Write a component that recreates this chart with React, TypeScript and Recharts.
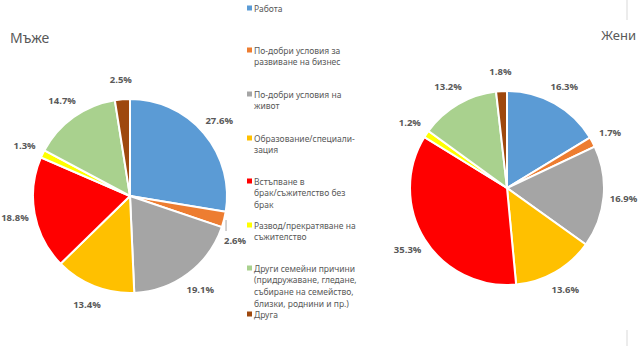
import React from 'react';
import { PieChart, Pie, Cell, Customized } from 'recharts';

const categories = [
  'Работа',
  'По-добри условия за развиване на бизнес',
  'По-добри условия на живот',
  'Образование/специализация',
  'Встъпване в брак/съжителство без брак',
  'Развод/прекратяване на съжителство',
  'Други семейни причини (придружаване, гледане, събиране на семейство, близки, роднини и пр.)',
  'Друга',
];
const legendLines = [
  ['Работа'],
  ['По-добри условия за', 'развиване на бизнес'],
  ['По-добри условия на', 'живот'],
  ['Образование/специали-', 'зация'],
  ['Встъпване в', 'брак/съжителство без', 'брак'],
  ['Развод/прекратяване на', 'съжителство'],
  ['Други семейни причини', '(придружаване, гледане,', 'събиране на семейство,', 'близки, роднини и пр.)'],
  ['Друга'],
];
const legendTops = [8, 50, 94, 138, 181, 225, 268, 314];
const colors = ['#5B9BD5', '#ED7D31', '#A5A5A5', '#FFC000', '#FF0000', '#FFFF00', '#A9D18E', '#9E480E'];
const men = [27.6, 2.6, 19.1, 13.4, 18.8, 1.3, 14.7, 2.5];
const women = [16.3, 1.7, 16.9, 13.6, 35.3, 1.2, 13.2, 1.8];

const menData = categories.map((name, i) => ({ name, value: men[i] }));
const womenData = categories.map((name, i) => ({ name, value: women[i] }));

const RAD = Math.PI / 180;
const makeLabel = (leaderIndex: number) => (props: any) => {
  const { cx, cy, midAngle, outerRadius, value, index } = props;
  const cos = Math.cos(-midAngle * RAD);
  const sin = Math.sin(-midAngle * RAD);
  let r = outerRadius + 20;
  let x = cx + r * cos;
  let y = cy + r * sin;
  const txt = (
    <text key="t" x={0} y={0} textAnchor="middle" dominantBaseline="central" fill="#595959"
      fontSize={9.5} fontWeight="bold" fontFamily="'Open Sans', sans-serif">
      {value.toFixed(1)}%
    </text>
  );
  if (index === leaderIndex) {
    const sx = cx + (outerRadius + 2) * cos;
    const sy = cy + (outerRadius + 2) * sin;
    const lx = sx;
    const ly = sy + 11;
    return (
      <g>
        <polyline points={`${sx},${sy} ${lx},${ly}`} fill="none" stroke="#A6A6A6" strokeWidth={1} />
        <g transform={`translate(${lx + 9},${ly + 9})`}>{txt}</g>
      </g>
    );
  }
  return <g transform={`translate(${x},${y})`}>{txt}</g>;
};

const Extras = () => (
  <g fontFamily="'Noto Sans', sans-serif">
    <text x={10} y={43} fontSize={14} fill="#595959">Мъже</text>
    <text x={636} y={40} fontSize={13} fill="#595959" textAnchor="end">Жени</text>
    <line x1={627} y1={0} x2={627} y2={20} stroke="#D9D9D9" />
    <line x1={627} y1={330} x2={627} y2={346} stroke="#D9D9D9" />
    {legendLines.map((lines, i) => (
      <g key={i}>
        <rect x={247} y={legendTops[i] - 2.5} width={5} height={5} fill={colors[i]} />
        {lines.map((ln, j) => (
          <text key={j} x={254} y={legendTops[i] + j * 11.7} dominantBaseline="central"
            fontSize={8.5} fill="#595959">{ln}</text>
        ))}
      </g>
    ))}
  </g>
);

export default function App() {
  return (
    <div style={{ position: 'absolute', left: 0, top: 0, width: 640, height: 346, background: '#fff' }}>
      <PieChart width={640} height={346} margin={{ top: 0, right: 0, bottom: 0, left: 0 }}>
        <Pie data={menData} dataKey="value" nameKey="name" cx={130} cy={196} outerRadius={97}
          startAngle={90} endAngle={-270} stroke="#fff" strokeWidth={2}
          label={makeLabel(1)} labelLine={false} isAnimationActive={false}>
          {menData.map((d, i) => <Cell key={i} fill={colors[i]} />)}
        </Pie>
        <Pie data={womenData} dataKey="value" nameKey="name" cx={507} cy={188} outerRadius={97}
          startAngle={90} endAngle={-270} stroke="#fff" strokeWidth={2}
          label={makeLabel(-1)} labelLine={false} isAnimationActive={false}>
          {womenData.map((d, i) => <Cell key={i} fill={colors[i]} />)}
        </Pie>
        <Customized component={Extras} />
      </PieChart>
    </div>
  );
}
